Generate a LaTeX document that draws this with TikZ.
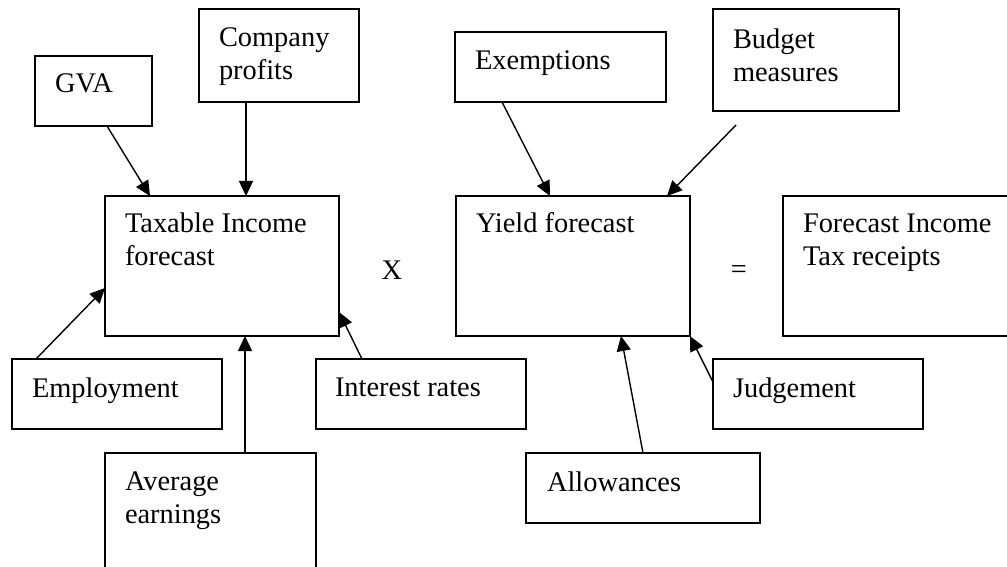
\documentclass[tikz,border=0pt]{standalone}
\usepackage{fontspec}
\setmainfont{Liberation Serif}
\usetikzlibrary{arrows.meta,calc}
\begin{document}
\begin{tikzpicture}[x=1pt,y=-1pt,
  box/.style={draw,line width=1.8pt,inner sep=0pt,outer sep=0pt,anchor=north west},
  lbl/.style={inner sep=0pt,outer sep=0pt,anchor=north west,align=left,font=\fontsize{28.4}{33}\selectfont},
  sym/.style={inner sep=0pt,font=\fontsize{28.4}{33}\selectfont},
  arr/.style={line width=1.4pt,-{Triangle[length=15pt,width=14pt]}}]
\useasboundingbox (0,0) rectangle (1007,567);
\clip (0,0) rectangle (1007,567);
% boxes
\node[box,minimum width=117pt,minimum height=70pt] (gva) at (35,56) {};
\node[box,minimum width=160pt,minimum height=93pt] (comp) at (199,9) {};
\node[box,minimum width=211pt,minimum height=70pt] (exem) at (455,32) {};
\node[box,minimum width=186pt,minimum height=102pt] (budg) at (713,9) {};
\node[box,minimum width=234pt,minimum height=140pt] (tax) at (105,196) {};
\node[box,minimum width=234pt,minimum height=140pt] (yield) at (456,196) {};
\node[box,minimum width=260pt,minimum height=140pt] (fore) at (783,196) {};
\node[box,minimum width=210pt,minimum height=70pt] (emp) at (12,359) {};
\node[box,minimum width=210pt,minimum height=70pt] (inter) at (316,359) {};
\node[box,minimum width=210pt,minimum height=70pt] (judg) at (713,359) {};
\node[box,minimum width=211pt,minimum height=150pt] (avg) at (105,453) {};
\node[box,minimum width=234pt,minimum height=70pt] (allow) at (526,453) {};
% labels
\node[lbl] (gvat) at ($(gva.north west)+(20,18)$) {GVA};
\node[lbl] (compt) at ($(comp.north west)+(20,19)$) {Company\\profits};
\node[lbl] (exemt) at ($(exem.north west)+(20,19)$) {Exemptions};
\node[lbl] (budgt) at ($(budg.north west)+(20,20)$) {Budget\\measures};
\node[lbl] (taxt) at ($(tax.north west)+(20,17)$) {Taxable Income\\forecast};
\node[lbl] (yieldt) at ($(yield.north west)+(20,17)$) {Yield forecast};
\node[lbl] (foret) at ($(fore.north west)+(20,18)$) {Forecast Income\\Tax receipts};
\node[lbl] (empt) at ($(emp.north west)+(20,19)$) {Employment};
\node[lbl] (intert) at ($(inter.north west)+(19,19)$) {Interest rates};
\node[lbl] (judgt) at ($(judg.north west)+(20,19)$) {Judgement};
\node[lbl] (avgt) at ($(avg.north west)+(20,19)$) {Average\\earnings};
\node[lbl] (allowt) at ($(allow.north west)+(21,19)$) {Allowances};
% operators
\node[sym] (times) at (392,270) {X};
\node[sym] (eq) at (739,272) {=};
% connectors
\draw[arr] ($(gva.south west)+(72,0)$) -- ($(tax.north west)+(45,0)$);
\draw[arr] ($(comp.south west)+(47,0)$) -- ($(tax.north west)+(141,0)$);
\draw[arr] ($(emp.north west)+(24,0)$) -- ($(tax.north west)+(0,92)$);
\draw[arr] ($(avg.north west)+(140,0)$) -- ($(tax.south west)+(140,0)$);
\draw[arr] ($(inter.north west)+(46,0)$) -- ($(tax.north east)+(0,116)$);
\draw[arr] ($(exem.south west)+(47,0)$) -- ($(yield.north west)+(94,0)$);
\draw[arr] ($(budg.south west)+(23,14)$) -- ($(yield.north west)+(211,0)$);
\draw[arr] ($(allow.north west)+(117,0)$) -- ($(yield.south west)+(165,0)$);
\draw[arr] ($(judg.north west)+(0,23)$) -- (yield.south east);
\end{tikzpicture}
\end{document}
